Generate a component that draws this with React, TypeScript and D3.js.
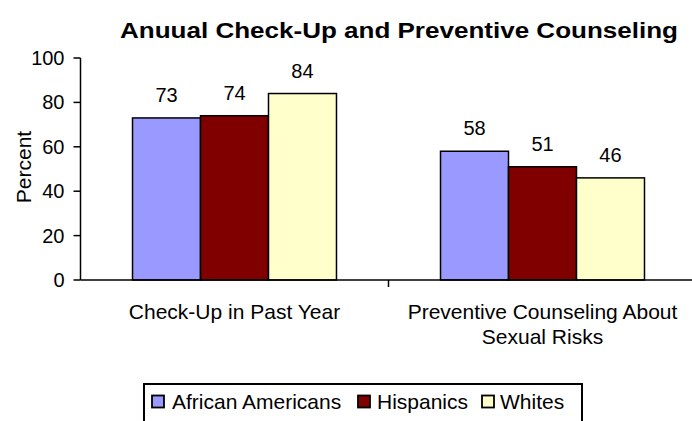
import React from "react";
import * as d3 from "d3";

const categories = ["Check-Up in Past Year", "Preventive Counseling About|Sexual Risks"];
const seriesNames = ["African Americans", "Hispanics", "Whites"];
const africanAmericans = [73, 58];
const hispanics = [74, 51];
const whites = [84, 46];
const yTicks = [0, 20, 40, 60, 80, 100];
const colors = ["#9999FF", "#800000", "#FFFFCC"];

export default function App() {
  const W = 692, H = 421;
  const left = 80.5, right = 696.5, top = 58, bottom = 280;
  const values = [africanAmericans, hispanics, whites];
  const x0 = d3.scaleBand().domain(categories).range([left, right]).paddingInner(0).paddingOuter(0);
  const x1 = d3.scaleBand().domain(seriesNames).range([0, x0.bandwidth()]).paddingInner(0).paddingOuter(0.765);
  const y = d3.scaleLinear().domain([0, 100]).range([bottom, top]);
  const font = "'Liberation Sans', Arial, sans-serif";
  const legendPos = [{ x: 152, tx: 172 }, { x: 358, tx: 377 }, { x: 482, tx: 500 }];
  return (
    <svg width={W} height={H} style={{ position: "absolute", left: 0, top: 0 }} fontFamily={font}>
      <rect width={W} height={H} fill="white" />
      <text x={120} y={38} fontSize={22.5} fontWeight="bold" textLength={558} lengthAdjust="spacingAndGlyphs">Anuual Check-Up and Preventive Counseling</text>
      {categories.map((c, ci) =>
        seriesNames.map((s, si) => {
          const v = values[si][ci];
          const bx = x0(c)! + x1(s)!;
          return (
            <g key={c + s}>
              <rect x={bx} y={y(v)} width={x1.bandwidth()} height={bottom - y(v)} fill={colors[si]} stroke="#000" strokeWidth={1.5} />
              <text x={bx + x1.bandwidth() / 2} y={y(v) - 16} textAnchor="middle" fontSize={20}>{v}</text>
            </g>
          );
        })
      )}
      <line x1={left} x2={W} y1={bottom} y2={bottom} stroke="#000" strokeWidth={1.5} />
      <line x1={left} x2={left} y1={top} y2={bottom} stroke="#000" strokeWidth={1.5} />
      {yTicks.map((t) => (
        <g key={t}>
          <line x1={left - 7} x2={left} y1={y(t)} y2={y(t)} stroke="#000" strokeWidth={1.5} />
          <text x={left - 16} y={y(t) + 7} textAnchor="end" fontSize={20}>{t}</text>
        </g>
      ))}
      {categories.slice(1).map((c) => (
        <line key={c} x1={x0(c)!} x2={x0(c)!} y1={bottom} y2={bottom + 7} stroke="#000" strokeWidth={1.5} />
      ))}
      {categories.map((c) => {
        const lines = c.split("|");
        const cx = x0(c)! + x0.bandwidth() / 2;
        return (
          <text key={c} x={cx} y={319} textAnchor="middle" fontSize={21}>
            {lines.map((l, i) => (
              <tspan key={i} x={cx} dy={i === 0 ? 0 : 25}>{l}</tspan>
            ))}
          </text>
        );
      })}
      <text transform={`translate(31,167) rotate(-90)`} textAnchor="middle" fontSize={21}>Percent</text>
      <rect x={144} y={384} width={438} height={45} fill="white" stroke="#000" strokeWidth={2} />
      {legendPos.map((p, i) => (
        <g key={i}>
          <rect x={p.x} y={395.5} width={12} height={12} fill={colors[i]} stroke="#000" strokeWidth={1.8} />
          <text x={p.tx} y={409} fontSize={21}>{seriesNames[i]}</text>
        </g>
      ))}
    </svg>
  );
}
